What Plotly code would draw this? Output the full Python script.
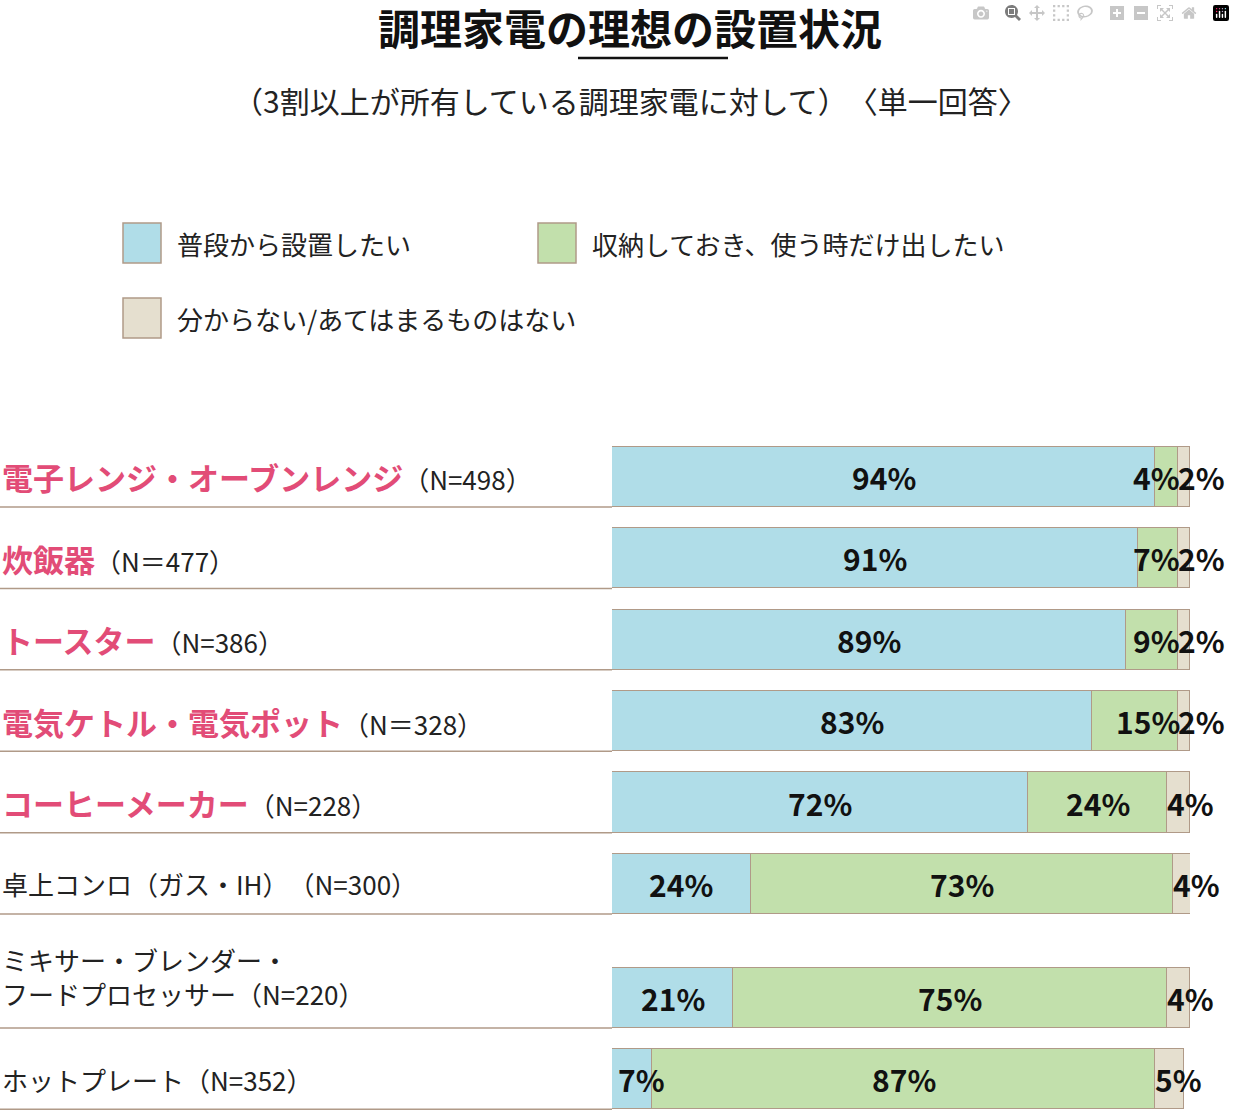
import plotly.graph_objects as go

# data
categories = ["電子レンジ・オーブンレンジ", "炊飯器", "トースター", "電気ケトル・電気ポット",
              "コーヒーメーカー", "卓上コンロ（ガス・IH）", "ミキサー・ブレンダー・<br>フードプロセッサー", "ホットプレート"]
n_labels = ["（N=498）", "（N＝477）", "（N=386）", "（N＝328）", "（N=228）", "　（N=300）", "（N=220）", "（N=352）"]
highlight = [True, True, True, True, True, False, False, False]
daily = [94, 91, 89, 83, 72, 24, 21, 7]
stored = [4, 7, 9, 15, 24, 73, 75, 87]
unknown = [2, 2, 2, 2, 4, 4, 4, 5]
series_names = ["普段から設置したい", "収納しておき、使う時だけ出したい", "分からない/あてはまるものはない"]

colors = ["#b0dde8", "#c2e0ac", "#e5dfcf"]
edge = "#b09a88"
pink = "#e24c77"
font = "Noto Sans CJK JP"

W, H = 1235, 1111
# row positions (layout): a little extra gap before the two-line label
row_pos = [0, 1, 2, 3, 4, 5, 6.4, 7.4]
bar_h = 0.74

fig = go.Figure()
for vals, name, col in zip([daily, stored, unknown], series_names, colors):
    fig.add_trace(go.Bar(
        x=vals, y=row_pos, orientation="h", name=name, width=bar_h,
        marker=dict(color=col, line=dict(color=edge, width=1.5)),
        showlegend=False,
    ))

ann = []
shapes = []
for i, p in enumerate(row_pos):
    d, s, u = daily[i], stored[i], unknown[i]
    # blue label
    if d >= 10:
        ann.append(dict(x=d / 2, y=p, text=f"<b>{d}%</b>", xanchor="center"))
    else:
        ann.append(dict(x=0, y=p, text=f"<b>{d}%</b>", xanchor="left", xshift=4))
    # green label
    if s >= 20:
        ann.append(dict(x=d + s / 2, y=p, text=f"<b>{s}%</b>", xanchor="center"))
    else:
        ann.append(dict(x=d + s, y=p, text=f"<b>{s}%</b>", xanchor="right", xshift=4))
    # beige label
    ann.append(dict(x=d + s, y=p, text=f"<b>{u}%</b>", xanchor="left", xshift=-2))
    # row label
    lines = categories[i].split("<br>")
    if highlight[i]:
        label = f"<span style='color:{pink};font-size:31px'><b>{categories[i]}</b></span>" \
                f"<span style='color:#222'>{n_labels[i]}</span>"
        ly = p
    elif len(lines) > 1:
        label = lines[0] + "<br>" + lines[1] + n_labels[i]
        ly = p - 0.26
    else:
        label = categories[i] + n_labels[i]
        ly = p
    ann.append(dict(x=0, xref="paper", y=ly, text=label, xanchor="left", yanchor="middle",
                    align="left", font=dict(size=26, color="#222", family=font)))
    shapes.append(dict(type="line", xref="paper", yref="y", x0=0, x1=612 / W,
                       y0=p + bar_h / 2, y1=p + bar_h / 2, line=dict(color=edge, width=1.5)))

for a in ann:
    a.setdefault("xref", "x")
    a.setdefault("yref", "y")
    a.setdefault("yanchor", "middle")
    a.setdefault("showarrow", False)
    a.setdefault("font", dict(size=30, color="#111", family=font))

# title / subtitle
ann.append(dict(x=630 / W, y=1 - 27 / H, xref="paper", yref="paper", showarrow=False,
                xanchor="center", yanchor="middle",
                text="<b>調理家電の理想の設置状況</b>", font=dict(size=42, color="#111", family=font)))
shapes.append(dict(type="line", xref="paper", yref="paper", x0=578 / W, x1=728 / W,
                   y0=1 - 58 / H, y1=1 - 58 / H, line=dict(color="#111", width=2.5)))
ann.append(dict(x=630 / W, y=1 - 100 / H, xref="paper", yref="paper", showarrow=False,
                xanchor="center", yanchor="middle",
                text="（3割以上が所有している調理家電に対して）　〈単一回答〉",
                font=dict(size=30, color="#222", family=font)))

# legend
leg = [(123, 243), (538, 243), (123, 318)]
for (lx, ly), name, col in zip(leg, series_names, colors):
    shapes.append(dict(type="rect", xref="paper", yref="paper", x0=lx / W, x1=(lx + 38) / W,
                       y0=1 - (ly - 20) / H, y1=1 - (ly + 20) / H,
                       fillcolor=col, line=dict(color=edge, width=1.5)))
    ann.append(dict(x=(lx + 52) / W, y=1 - ly / H, xref="paper", yref="paper", showarrow=False,
                    xanchor="left", yanchor="middle",
                    text=name, font=dict(size=26, color="#222", family=font)))

fig.update_layout(
    width=W, height=H, barmode="stack", bargap=0,
    margin=dict(l=0, r=0, t=0, b=0),
    plot_bgcolor="white", paper_bgcolor="white",
    xaxis=dict(domain=[612 / W, 1190 / W], range=[0, 100], visible=False),
    yaxis=dict(domain=[0, 1], range=[7.79, -5.86], visible=False),
    annotations=ann, shapes=shapes,
    font=dict(family=font),
)

fig.write_html("out.html", post_script="document.body.style.margin='0';")
